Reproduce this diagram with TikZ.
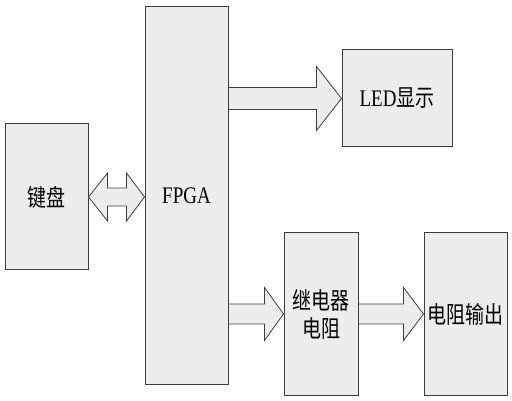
\documentclass[tikz,border=0pt]{standalone}
\usepackage{fontspec}
\setmainfont{Liberation Serif}
\newfontfamily\cjk{Noto Sans CJK SC}
\usepackage{xcolor}
\usepackage{tikz}
\usetikzlibrary{calc}
\usetikzlibrary{positioning}

\definecolor{boxfill}{HTML}{EDEDED}
\definecolor{boxline}{HTML}{3C3C3C}
\newcommand{\tallt}[1]{\scalebox{1}[1.25]{#1}}
% block arrow: tail, tip, half shaft, half head, head length
\newcommand{\blockarrow}[5]{\path[fatarrow] ($(#1)+(0,-#3)$) -- ($(#2)+(-#5,-#3)$) -- ($(#2)+(-#5,-#4)$) -- (#2) -- ($(#2)+(-#5,#4)$) -- ($(#2)+(-#5,#3)$) -- ($(#1)+(0,#3)$) -- cycle;}

\tikzset{
  blockbox/.style={draw=boxline, fill=boxfill, line width=1pt, inner sep=0pt, align=center, font=\fontsize{19}{28}\selectfont},
  fatarrow/.style={draw=boxline, fill=boxfill, line width=0.8pt, line join=miter}
}

\begin{document}
\begin{tikzpicture}[x=1pt, y=-1pt]
\useasboundingbox (0,0) rectangle (512,401);

\node[blockbox, minimum width=83pt, minimum height=146pt] (kb) at (46.5,197) {\tallt{\cjk 键盘}};
\node[blockbox, minimum width=83pt, minimum height=377pt] (fpga) at (186.5,195.5) {\tallt{FPGA}};
\node[blockbox, minimum width=110pt, minimum height=97pt] (led) at (397,98.5) {\tallt{LED{\cjk 显示}}};
\node[blockbox, minimum width=74pt, minimum height=162pt] (relay) at (321,314) {\tallt{\cjk 继电器}\\\tallt{\cjk 电阻}};
\node[blockbox, minimum width=83pt, minimum height=162pt] (out) at (465.5,314) {\tallt{\cjk 电阻输出}};

\coordinate (ledin) at (fpga.east |- led.west);
\coordinate (relayin) at (fpga.east |- relay.west);
\coordinate (kbin) at (fpga.west |- kb.east);

% keyboard <-> FPGA
\path[fatarrow] (kb.east) -- ($(kb.east)+(19,-24)$) -- ($(kb.east)+(19,-9)$) -- ($(kbin)+(-18,-9)$) -- ($(kbin)+(-18,-24)$) -- (kbin) -- ($(kbin)+(-18,24)$) -- ($(kbin)+(-18,9)$) -- ($(kb.east)+(19,9)$) -- ($(kb.east)+(19,24)$) -- cycle;

\blockarrow{ledin}{led.west}{11}{32}{25}
\blockarrow{relayin}{relay.west}{10}{26.5}{19}
\blockarrow{relay.east}{out.west}{10}{26.5}{20}

\end{tikzpicture}
\end{document}
